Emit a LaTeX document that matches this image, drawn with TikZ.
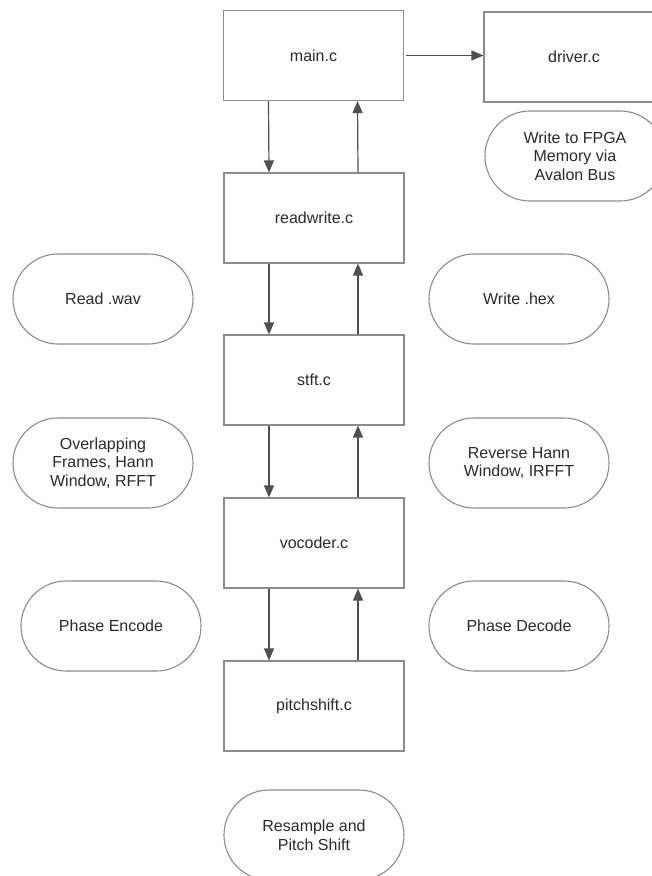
\documentclass[tikz,border=0pt]{standalone}
\usepackage{fontspec}
\setmainfont{Liberation Sans}
\usetikzlibrary{arrows.meta}
\definecolor{edgegray}{HTML}{8C8C8C}
\definecolor{arrowgray}{HTML}{505050}
\definecolor{textgray}{HTML}{2A2A2A}
\begin{document}
\begin{tikzpicture}[x=1pt,y=-1pt,
  every node/.style={font=\fontsize{16}{18.6}\selectfont, text=textgray, align=center, inner sep=0pt},
  filebox/.style={draw=edgegray, line width=1.1pt, minimum width=180pt, minimum height=90pt},
  taskpill/.style={draw=edgegray, line width=1.1pt, minimum width=180pt, minimum height=90pt, rounded corners=45pt},
  flow/.style={draw=arrowgray, line width=1.2pt, -{Triangle[width=10pt,length=12pt]}}]
\useasboundingbox (0,0) rectangle (652,876);
\fill[white] (0,0) rectangle (652,876);
\begin{scope}
\clip (0,0) rectangle (652,876);
\node[filebox] (main) at (313.5,55.5) {main.c};
\node[filebox] (driver) at (574,57) {driver.c};
\node[taskpill] (fpga) at (575,156) {Write to FPGA\\Memory via\\Avalon Bus};
\node[filebox] (rw) at (314,218) {readwrite.c};
\node[taskpill] (rwav) at (103,299) {Read .wav};
\node[taskpill] (whex) at (519,299) {Write .hex};
\node[filebox] (stft) at (314,380) {stft.c};
\node[taskpill] (ovl) at (103,463) {Overlapping\\Frames, Hann\\Window, RFFT};
\node[taskpill] (rev) at (519,463) {Reverse Hann\\Window, IRFFT};
\node[filebox] (voc) at (314,543) {vocoder.c};
\node[taskpill] (penc) at (111,626) {Phase Encode};
\node[taskpill] (pdec) at (519,626) {Phase Decode};
\node[filebox] (pitch) at (314,706) {pitchshift.c};
\node[taskpill] (res) at (314,835) {Resample and\\Pitch Shift};
\end{scope}
\draw[flow] ([xshift=2pt]main.east) -- (driver.west |- main.east);
\draw[flow] ([xshift=-45pt]main.south) -- ([xshift=-45pt]rw.north);
\draw[flow] ([xshift=44pt]rw.north) -- ([xshift=44pt]main.south);
\draw[flow] ([xshift=-45pt]rw.south) -- ([xshift=-45pt]stft.north);
\draw[flow] ([xshift=44pt]stft.north) -- ([xshift=44pt]rw.south);
\draw[flow] ([xshift=-45pt]stft.south) -- ([xshift=-45pt]voc.north);
\draw[flow] ([xshift=44pt]voc.north) -- ([xshift=44pt]stft.south);
\draw[flow] ([xshift=-45pt]voc.south) -- ([xshift=-45pt]pitch.north);
\draw[flow] ([xshift=44pt]pitch.north) -- ([xshift=44pt]voc.south);
\end{tikzpicture}
\end{document}
